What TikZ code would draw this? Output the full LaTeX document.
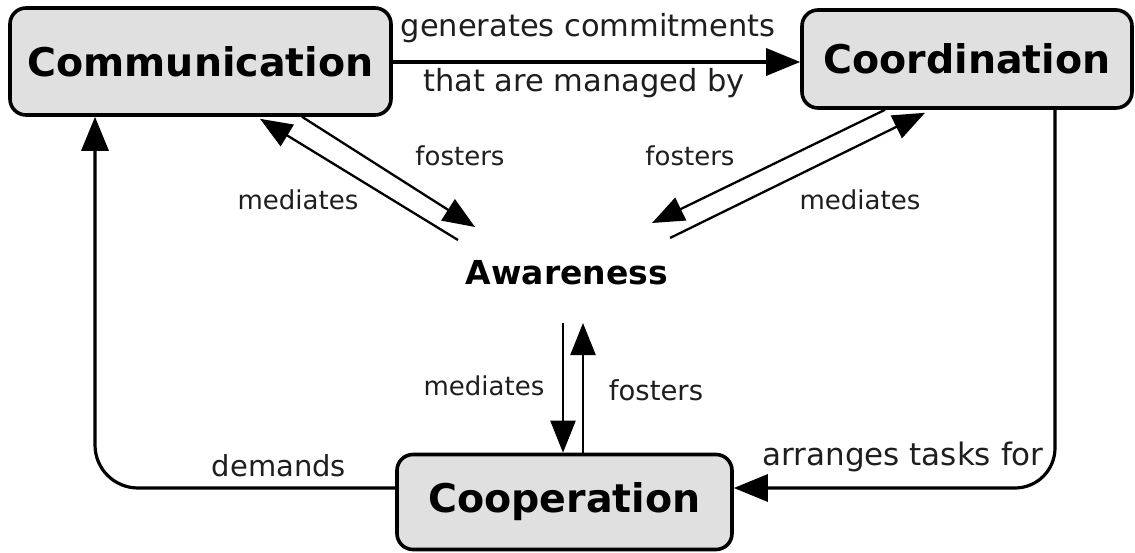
\documentclass[tikz,border=0pt]{standalone}
\usepackage{fontspec}
\setmainfont{DejaVu Sans}
\usetikzlibrary{arrows.meta,calc}
\definecolor{boxfill}{RGB}{224,224,224}
\definecolor{labcol}{RGB}{30,30,30}
\begin{document}
\begin{tikzpicture}[x=1pt,y=-1pt,
  concept/.style={draw=black,line width=3.6pt,fill=boxfill,rounded corners=16pt,inner sep=0pt,
    font=\fontsize{39.5}{44}\selectfont\bfseries,align=center},
  lab/.style={font=\fontsize{26}{30}\selectfont,text=labcol,inner sep=0pt},
  biglab/.style={font=\fontsize{30.5}{34}\selectfont,text=labcol,inner sep=0pt},
  conn/.style={line width=3.2pt,-{Triangle[length=34pt,width=27pt]}},
  thin/.style={line width=2.3pt,-{Triangle[length=32pt,width=25pt]}}]
\useasboundingbox (0,0) rectangle (1135,553);
\node[concept,minimum width=381pt,minimum height=107pt] (comm) at (200.5,61.5) {Communication};
\node[concept,minimum width=330pt,minimum height=98pt] (coord) at (967,59) {Coordination};
\node[concept,minimum width=335pt,minimum height=95pt] (coop) at (564.5,502) {Cooperation};
\node[font=\fontsize{33}{36}\selectfont\bfseries,inner sep=0pt] (aware) at (567,273) {Awareness};
% free ends near Awareness
\coordinate (lf) at (475,227);
\coordinate (lm) at (458,240);
\coordinate (rf) at (652,223);
\coordinate (rm) at (670,238);
\coordinate (vm) at (563,323);
\coordinate (vf) at (583,323);
% top
\draw[conn] ([yshift=-0.5pt]comm.east) -- ([yshift=-0.5pt]comm.east -| coord.west);
\node[biglab] (l1) at (588,28) {generates commitments};
\node[biglab] (l2) at (584,83) {that are managed by};
% left diagonals
\draw[thin] ([xshift=101.5pt]comm.south) -- (lf);
\draw[thin] (lm) -- ([xshift=59.5pt,yshift=-2pt]comm.south);
\node[lab] (l3) at (460,156) {fosters};
\node[lab] (l4) at (298,200) {mediates};
% right diagonals
\draw[thin] ([xshift=-82pt]coord.south) -- (rf);
\draw[thin] (rm) -- ([xshift=-42pt,yshift=-3pt]coord.south);
\node[lab] (l5) at (690,156) {fosters};
\node[lab] (l6) at (860,200) {mediates};
% vertical
\draw[thin] (vm) -- (vm |- coop.north);
\draw[thin] (vf |- coop.north) -- (vf);
\node[lab] (l7) at (484,386) {mediates};
\node[font=\fontsize{27.5}{30}\selectfont,text=labcol,inner sep=0pt] (l8) at (656,390) {fosters};
% left loop
\draw[conn,rounded corners=43pt] ([yshift=14pt]coop.west) -| ([xshift=-105.5pt]comm.south);
\node[font=\fontsize{29}{32}\selectfont,text=labcol,inner sep=0pt] (l9) at (279,466) {demands};
% right loop
\draw[conn,rounded corners=40pt] ([xshift=88pt]coord.south) |- ([yshift=14pt]coop.east);
\node[font=\fontsize{31}{34}\selectfont,text=labcol,inner sep=0pt] (l10) at (903,457) {arranges tasks for};
\end{tikzpicture}
\end{document}
